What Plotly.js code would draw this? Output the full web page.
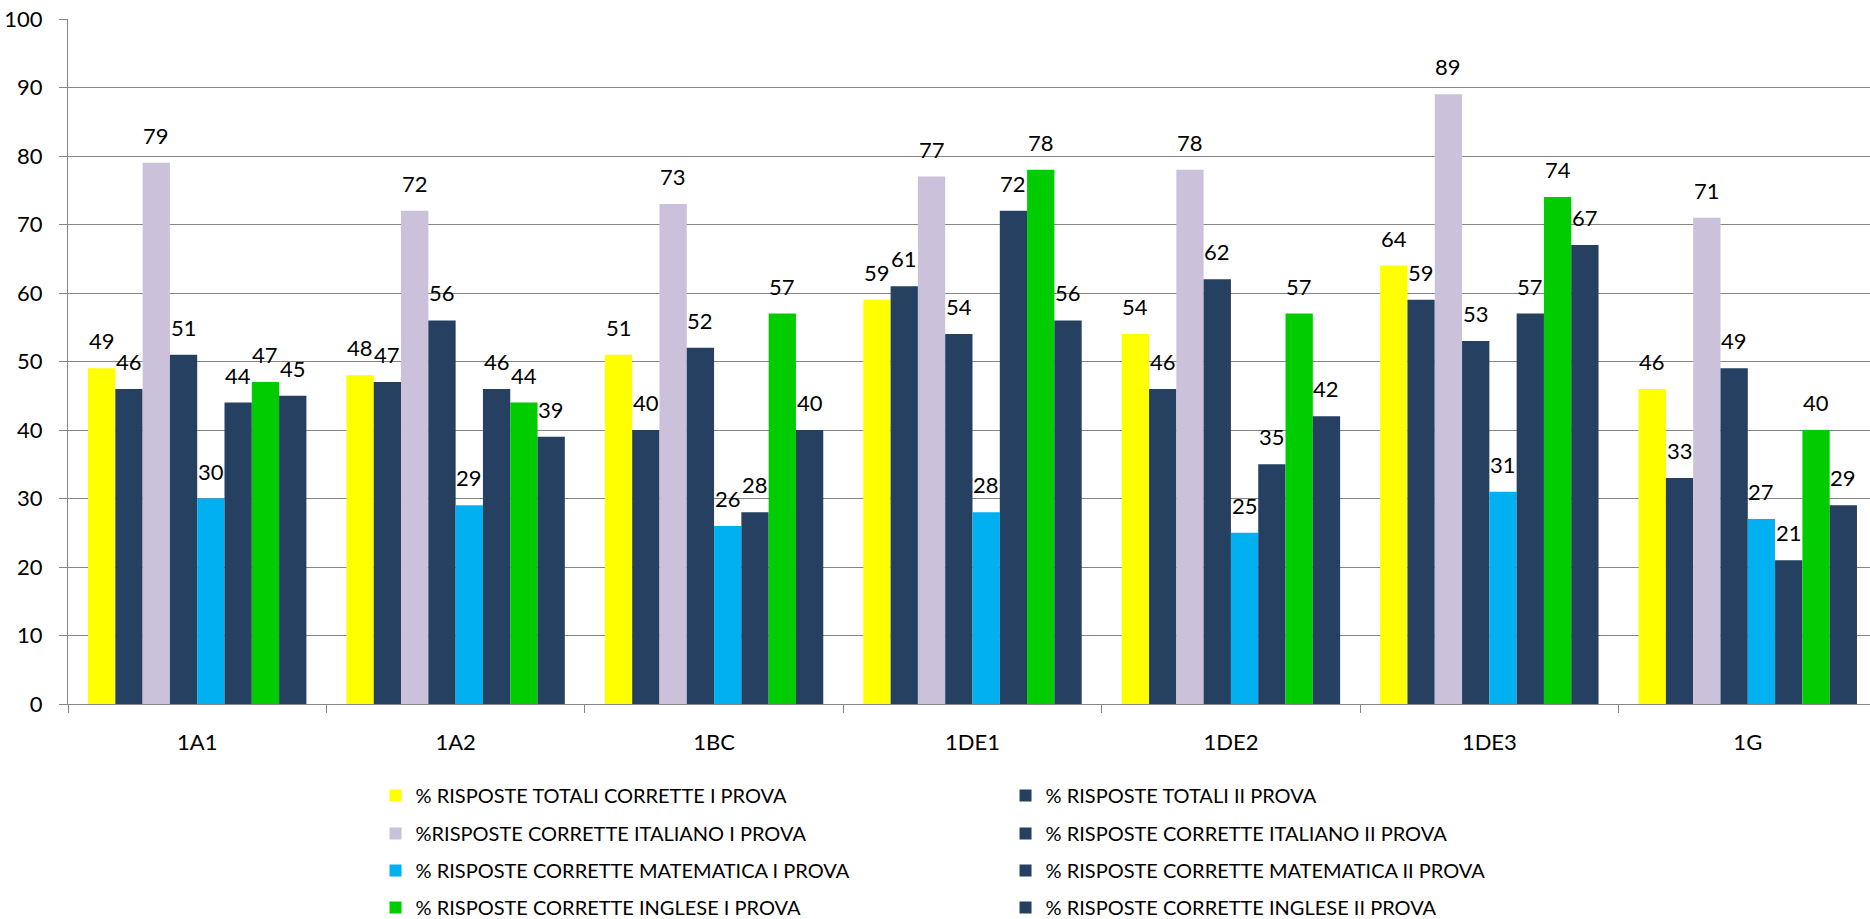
<!DOCTYPE html>
<html>
<head>
<meta charset="utf-8">
<script src="https://cdn.plot.ly/plotly-3.0.1.min.js"></script>
<style>
html,body{margin:0;padding:0;overflow:hidden;background:#fff;}
#chart{width:1877px;height:919px;}
</style>
</head>
<body>
<div id="chart"></div>
<script>
var categories = ["1A1", "1A2", "1BC", "1DE1", "1DE2", "1DE3", "1G"];
var seriesNames = [
  "% RISPOSTE TOTALI CORRETTE I PROVA",
  "% RISPOSTE TOTALI II PROVA",
  "%RISPOSTE CORRETTE ITALIANO I PROVA",
  "% RISPOSTE CORRETTE ITALIANO II PROVA",
  "% RISPOSTE CORRETTE MATEMATICA I PROVA",
  "% RISPOSTE CORRETTE MATEMATICA II PROVA",
  "% RISPOSTE CORRETTE INGLESE I PROVA",
  "% RISPOSTE CORRETTE INGLESE II PROVA"
];
var totaliI      = [49, 48, 51, 59, 54, 64, 46];
var totaliII     = [46, 47, 40, 61, 46, 59, 33];
var italianoI    = [79, 72, 73, 77, 78, 89, 71];
var italianoII   = [51, 56, 52, 54, 62, 53, 49];
var matematicaI  = [30, 29, 26, 28, 25, 31, 27];
var matematicaII = [44, 46, 28, 72, 35, 57, 21];
var ingleseI     = [47, 44, 57, 78, 57, 74, 40];
var ingleseII    = [45, 39, 40, 56, 42, 67, 29];
var yTicks = [0, 10, 20, 30, 40, 50, 60, 70, 80, 90, 100];

var seriesValues = [totaliI, totaliII, italianoI, italianoII, matematicaI, matematicaII, ingleseI, ingleseII];
var colors = ["#FFFF00", "#254061", "#CCC1DA", "#254061", "#00B0F0", "#254061", "#00CC00", "#254061"];
var legendIds = ["legend", "legend", "legend2", "legend2", "legend3", "legend3", "legend4", "legend4"];

var FONT = "Lato, 'Open Sans', sans-serif";
var W = 1877, H = 919, ML = 68, MR = 0, MT = 19, MB = 215;
var BARGAP = 0.155;

var traces = seriesValues.map(function(vals, i){
  return {
    type: "bar",
    name: seriesNames[i],
    legend: legendIds[i],
    x: categories,
    y: vals,
    marker: {color: colors[i], line: {width: 0}},
    textposition: "none",
    hoverinfo: "x+y+name"
  };
});

// data labels centred above each bar of the group
var plotW = W - ML - MR;
var catW = plotW / categories.length;
var barW = catW * (1 - BARGAP) / seriesValues.length;
var annotations = [];
seriesValues.forEach(function(vals, i){
  vals.forEach(function(v, j){
    annotations.push({
      x: categories[j], y: v, xref: "x", yref: "y",
      text: String(v), showarrow: false,
      xanchor: "center", yanchor: "bottom",
      xshift: (i - (seriesValues.length - 1) / 2) * barW,
      yshift: 12,
      font: {family: FONT, size: 22, color: "#000"}
    });
  });
});

function legendAt(y){
  return {
    orientation: "h",
    x: 0.17,
    xanchor: "left",
    y: y,
    yanchor: "top",
    entrywidth: 585,
    entrywidthmode: "pixels",
    font: {family: FONT, size: 20, color: "#000"},
    traceorder: "normal",
    itemclick: false,
    bgcolor: "rgba(0,0,0,0)"
  };
}

var layout = {
  width: W,
  height: H,
  margin: {l: ML, r: MR, t: MT, b: MB, autoexpand: false},
  paper_bgcolor: "#fff",
  plot_bgcolor: "#fff",
  barmode: "group",
  bargap: BARGAP,
  bargroupgap: 0,
  showlegend: true,
  font: {family: FONT, size: 22, color: "#000"},
  xaxis: {
    type: "category",
    tickson: "boundaries",
    ticks: "outside",
    ticklen: 8,
    tickcolor: "#868686",
    showline: true,
    linecolor: "#868686",
    linewidth: 1,
    showgrid: false,
    tickfont: {family: FONT, size: 22, color: "#000"},
    ticklabelstandoff: 19
  },
  yaxis: {
    range: [0, 100],
    tickvals: yTicks,
    ticktext: yTicks.map(String),
    ticks: "outside",
    ticklen: 8,
    tickcolor: "#868686",
    showline: true,
    linecolor: "#868686",
    linewidth: 1,
    showgrid: true,
    gridcolor: "#868686",
    gridwidth: 1,
    zeroline: false,
    tickfont: {family: FONT, size: 22, color: "#000"},
    ticklabelstandoff: 12
  },
  annotations: annotations,
  legend: legendAt(-0.105),
  legend2: legendAt(-0.1605),
  legend3: legendAt(-0.2145),
  legend4: legendAt(-0.2685)
};

Plotly.newPlot("chart", traces, layout, {displayModeBar: false, responsive: false});
</script>
</body>
</html>
